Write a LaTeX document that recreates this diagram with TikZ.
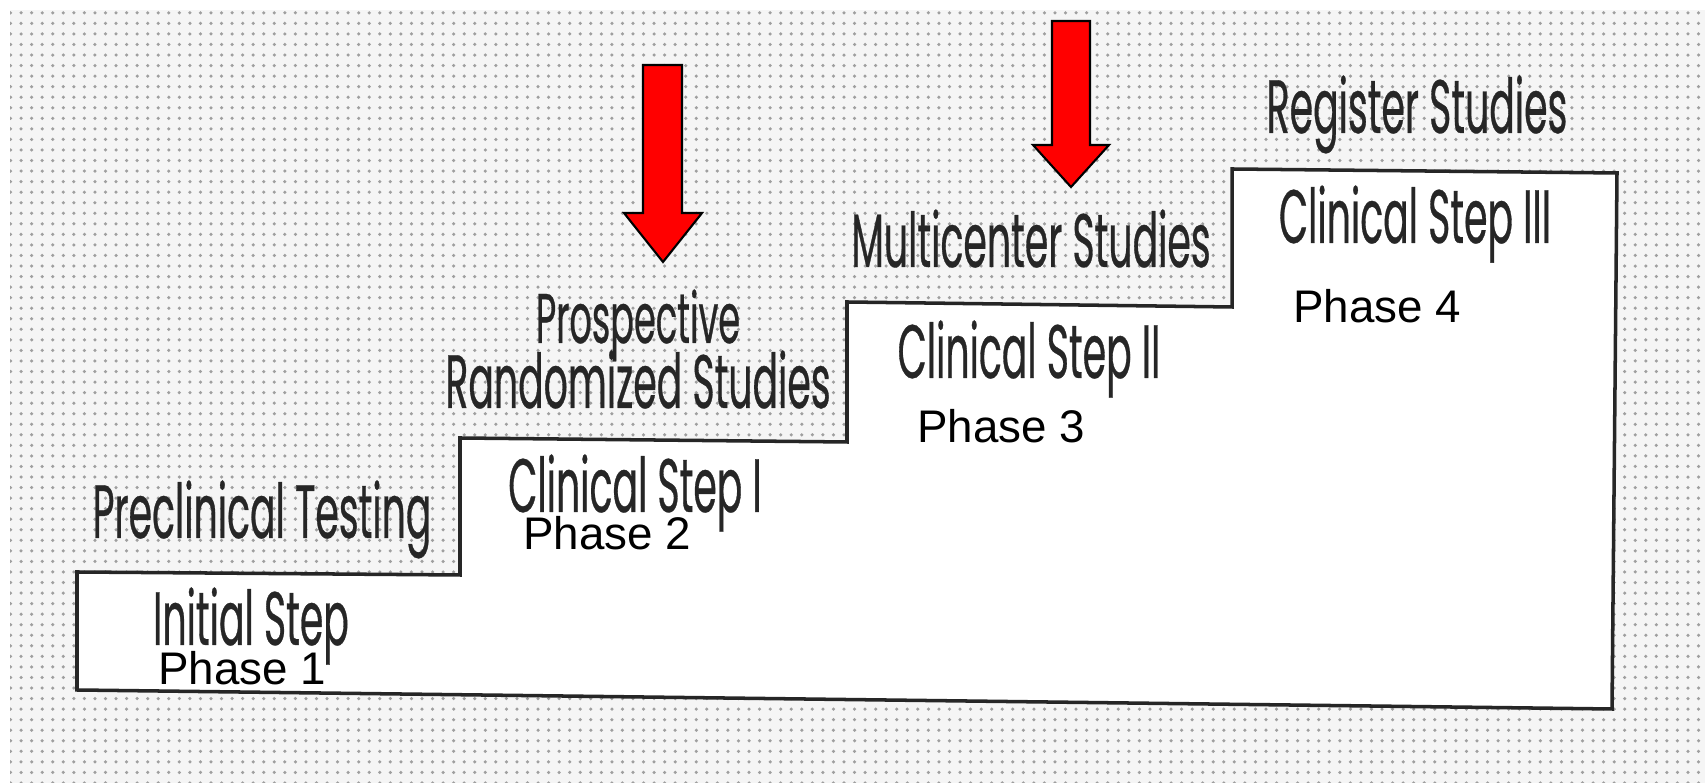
\documentclass[tikz,border=0pt]{standalone}
\usepackage{fontspec}
\setmainfont{Liberation Sans}
\newfontfamily\condfont[FakeStretch=0.5,FakeBold=0.4]{Poppins}
\usetikzlibrary{patterns}
\tikzset{
  stairlbl/.style={font=\condfont\fontsize{21.5}{21.5}\selectfont, inner sep=0pt, anchor=base, text=black!85},
  phaselbl/.style={font=\fontsize{13}{13}\selectfont, inner sep=0pt, anchor=base, text=black},
  stairline/.style={draw=black!85, line width=1pt, fill=white, line join=miter},
  redarrow/.style={draw=black, line width=0.6pt, fill=red, line join=miter}
}
\begin{document}
\begin{tikzpicture}[x=0.01cm,y=-0.01cm]
\useasboundingbox (0,0) rectangle (1705,783);
\fill[white] (0,0) rectangle (1705,783);
\fill[gray!8] (10,10) rectangle (1705,783);
\fill[pattern=dots, pattern color=gray!75] (10,10) rectangle (1705,783);
% staircase
\draw[stairline] (77,690) -- (77,572) -- (460,575) -- (460,438) -- (847,442)
  -- (847,302) -- (1232,307) -- (1232,169) -- (1617,173) -- (1612,709) -- cycle;
% arrows
\draw[redarrow] (643,65) -- (682,65) -- (682,213) -- (702,213) -- (663,262)
  -- (624,213) -- (643,213) -- cycle;
\draw[redarrow] (1052,21) -- (1090,21) -- (1090,145) -- (1109,145) -- (1071,187)
  -- (1033,145) -- (1052,145) -- cycle;
% labels
\node[stairlbl] (pre) at (262,538) {Preclinical Testing};
\node[stairlbl] (init) at (251,645) {Initial Step};
\node[phaselbl] (ph1) at (242,685) {Phase 1};
\node[stairlbl, font=\condfont\fontsize{20}{20}\selectfont] (prosp) at (638,343) {Prospective};
\node[stairlbl] (rand) at (638,408) {Randomized Studies};
\node[stairlbl] (cs1) at (635,512) {Clinical Step I};
\node[phaselbl] (ph2) at (607,550) {Phase 2};
\node[stairlbl] (multi) at (1031,267) {Multicenter Studies};
\node[stairlbl] (cs2) at (1029,378) {Clinical Step II};
\node[phaselbl] (ph3) at (1001,443) {Phase 3};
\node[stairlbl] (reg) at (1417,133) {Register Studies};
\node[stairlbl] (cs3) at (1415,243) {Clinical Step III};
\node[phaselbl] (ph4) at (1377,323) {Phase 4};
\end{tikzpicture}
\end{document}
